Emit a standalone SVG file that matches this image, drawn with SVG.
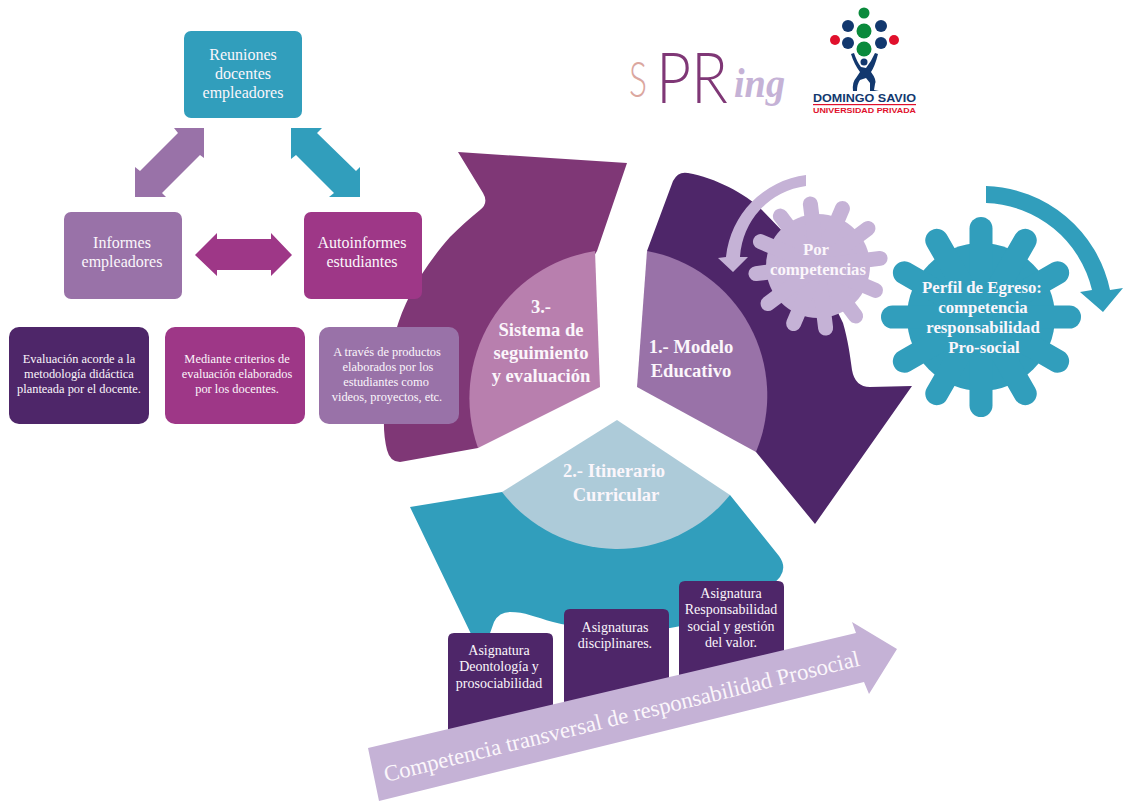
<svg xmlns="http://www.w3.org/2000/svg" width="1129" height="801" viewBox="0 0 1129 801">
<style>
text{font-family:"Liberation Serif","DejaVu Serif",serif;fill:#fbf6fb;text-anchor:middle}
.b{font-weight:bold}
.m{font-size:16px}
.s{font-size:12.4px}
.a{font-size:14px}
.l1{font-size:18.6px}
.l2{font-size:16.8px}
.tt{stroke:#319ebc;stroke-width:23;stroke-linecap:round}
.tp{stroke:#c5b2d6;stroke-width:15;stroke-linecap:round}
.logo{font-family:"Liberation Sans",Arial,sans-serif;font-weight:bold}
.sp{font-family:Lato,"Open Sans",sans-serif;font-weight:300;text-anchor:start}
</style>
<rect width="1129" height="801" fill="#fff"/>
<g id="sistema">
<path fill="#7f3776" d="M458 152 L627 163 L597 251 L478 448 L400 462 Q390 462 387 450 Q382 430 385 405 C388 350 395 300 450 237 C460 227 470 218 480 210 Q489 203 483 193 Z"/>
<path fill="#b87fae" d="M595 251 L600 387 L478 448 A149 149 0 0 1 595 251 Z"/>
<text class="b l1"><tspan x="541" y="313">3.-</tspan><tspan x="541" y="336">Sistema de</tspan><tspan x="541" y="359">seguimiento</tspan><tspan x="541" y="382">y evaluación</tspan></text>
</g>
<g id="modelo">
<path fill="#4e2669" d="M647 251 L673 181 Q678 171 688 173 C715 178 745 193 762 210 L815 265 L843 323 C848 340 850 355 852 370 Q855 387 870 387 L912 386 L815 524 L756 452 Z"/>
<path fill="#9972a8" d="M647 251 L637 387 L756 452 A147 147 0 0 0 647 251 Z"/>
<text class="b l1"><tspan x="691" y="353">1.- Modelo</tspan><tspan x="691" y="377">Educativo</tspan></text>
</g>
<g id="itinerario">
<path fill="#319ebc" d="M410 507 L502 492 L730 495 L779 556 Q787 567 780 577 C765 595 720 620 670 628 C630 633 585 630 553 622 C535 617 525 612 510 612 Q499 612 494 622 L489 636 L472 636 Z"/>
<path fill="#adcbd9" d="M617 420 L730 495 A145 145 0 0 1 502 492 Z"/>
<text class="b l1"><tspan x="614" y="477">2.- Itinerario</tspan><tspan x="616" y="501">Curricular</tspan></text>
</g>
<g id="asig1"><path fill="#4e2669" d="M448 735 V639 Q448 633 454 633 H547 Q553 633 553 639 V710 Z"/>
<text class="a"><tspan x="499" y="655">Asignatura</tspan><tspan x="499" y="671">Deontología y</tspan><tspan x="499" y="688">prosociabilidad</tspan></text></g>
<g id="asig2"><path fill="#4e2669" d="M564 708 V615 Q564 609 570 609 H663 Q669 609 669 615 V683 Z"/>
<text class="a"><tspan x="615" y="632">Asignaturas</tspan><tspan x="615" y="648">disciplinares.</tspan></text></g>
<g id="asig3"><path fill="#4e2669" d="M679 681 V587 Q679 581 685 581 H778 Q784 581 784 587 V656 Z"/>
<text class="a"><tspan x="731" y="598">Asignatura</tspan><tspan x="731" y="614">Responsabilidad</tspan><tspan x="731" y="631">social y gestión</tspan><tspan x="731" y="647">del valor.</tspan></text></g>
<g id="transversal">
<path fill="#c5b2d6" d="M368 748 L856 633 L852 622 L897 649 L869 694 L864 682 L379 801 Z"/>
<text font-size="22.700" transform="translate(386 782) rotate(-13.800)" style="text-anchor:start">Competencia transversal de responsabilidad Prosocial</text>
</g>
<g id="por">
<path fill="#c5b2d6" d="M806 175 A92 92 0 0 0 726 257 L718 258 L733 272 L748 257 L740 257 A76 76 0 0 1 806 186 Z"/>
<circle cx="818" cy="266" r="52" fill="#c5b2d6"/>
<g class="tp"><line x1="818" y1="266" x2="818" y2="203.500" transform="rotate(-7 818 266)"/><line x1="818" y1="266" x2="818" y2="203.500" transform="rotate(23 818 266)"/><line x1="818" y1="266" x2="818" y2="203.500" transform="rotate(53 818 266)"/><line x1="818" y1="266" x2="818" y2="203.500" transform="rotate(83 818 266)"/><line x1="818" y1="266" x2="818" y2="203.500" transform="rotate(113 818 266)"/><line x1="818" y1="266" x2="818" y2="203.500" transform="rotate(143 818 266)"/><line x1="818" y1="266" x2="818" y2="203.500" transform="rotate(173 818 266)"/><line x1="818" y1="266" x2="818" y2="203.500" transform="rotate(203 818 266)"/><line x1="818" y1="266" x2="818" y2="203.500" transform="rotate(233 818 266)"/><line x1="818" y1="266" x2="818" y2="203.500" transform="rotate(263 818 266)"/><line x1="818" y1="266" x2="818" y2="203.500" transform="rotate(293 818 266)"/><line x1="818" y1="266" x2="818" y2="203.500" transform="rotate(323 818 266)"/></g>
<text class="b l2"><tspan x="816" y="255">Por</tspan><tspan x="818" y="275">competencias</tspan></text>
</g>
<g id="perfil">
<path fill="#319ebc" d="M986 186 A131 131 0 0 1 1110 290 L1123 288 L1103 312 L1080 292 L1092 290 A113 113 0 0 0 986 203 Z"/>
<circle cx="981" cy="317" r="74" fill="#319ebc"/>
<g class="tt"><line x1="981" y1="317" x2="981" y2="228.500"/><line x1="981" y1="317" x2="981" y2="228.500" transform="rotate(30 981 317)"/><line x1="981" y1="317" x2="981" y2="228.500" transform="rotate(60 981 317)"/><line x1="981" y1="317" x2="981" y2="228.500" transform="rotate(90 981 317)"/><line x1="981" y1="317" x2="981" y2="228.500" transform="rotate(120 981 317)"/><line x1="981" y1="317" x2="981" y2="228.500" transform="rotate(150 981 317)"/><line x1="981" y1="317" x2="981" y2="228.500" transform="rotate(180 981 317)"/><line x1="981" y1="317" x2="981" y2="228.500" transform="rotate(210 981 317)"/><line x1="981" y1="317" x2="981" y2="228.500" transform="rotate(240 981 317)"/><line x1="981" y1="317" x2="981" y2="228.500" transform="rotate(270 981 317)"/><line x1="981" y1="317" x2="981" y2="228.500" transform="rotate(300 981 317)"/><line x1="981" y1="317" x2="981" y2="228.500" transform="rotate(330 981 317)"/></g>
<text class="b l2"><tspan x="982" y="293">Perfil de Egreso:</tspan><tspan x="983" y="313">competencia</tspan><tspan x="983" y="333">responsabilidad</tspan><tspan x="984" y="353">Pro-social</tspan></text>
</g>
<g id="connectors">
<polygon fill="#9972a8" points="174,128 204,128 204,158 200,155 162,193 166,197 135,197 135,167 140,171 178,133"/>
<polygon fill="#319ebc" points="291,128 322,128 317,133 356,171 360,167 360,197 329,197 334,193 296,155 291,159"/>
<polygon fill="#9e3787" points="195,255 217,233 217,239 271,239 271,233 292,255 271,276 271,270 217,270 217,276"/>
</g>
<g id="reuniones"><rect x="184" y="31" width="118" height="87" rx="7" fill="#319ebc"/>
<text class="m"><tspan x="243" y="60">Reuniones</tspan><tspan x="243" y="79">docentes</tspan><tspan x="243" y="98">empleadores</tspan></text></g>
<g id="informes"><rect x="64" y="212" width="118" height="87" rx="7" fill="#9972a8"/>
<text class="m"><tspan x="122" y="248">Informes</tspan><tspan x="122" y="267">empleadores</tspan></text></g>
<g id="autoinformes"><rect x="304" y="212" width="118" height="87" rx="7" fill="#9e3787"/>
<text class="m"><tspan x="362" y="248">Autoinformes</tspan><tspan x="362" y="267">estudiantes</tspan></text></g>
<g id="evaluacion"><rect x="9" y="327" width="140" height="97" rx="10" fill="#4e2669"/>
<text class="s"><tspan x="79" y="363">Evaluación acorde a la</tspan><tspan x="79" y="378">metodología didáctica</tspan><tspan x="79" y="393">planteada por el docente.</tspan></text></g>
<g id="criterios"><rect x="165" y="327" width="140" height="97" rx="10" fill="#9e3787"/>
<text class="s"><tspan x="237" y="363">Mediante criterios de</tspan><tspan x="237" y="378">evaluación elaborados</tspan><tspan x="237" y="393">por los docentes.</tspan></text></g>
<g id="productos"><rect x="319" y="327" width="140" height="97" rx="10" fill="#9972a8"/>
<text class="s"><tspan x="387" y="356">A través de productos</tspan><tspan x="388" y="371">elaborados por los</tspan><tspan x="386" y="386">estudiantes como</tspan><tspan x="387" y="401">videos, proyectos, etc.</tspan></text></g>
<g id="spring">
<text class="sp" x="629" y="97" font-size="50" textLength="18" lengthAdjust="spacingAndGlyphs" style="fill:#dba79f">S</text>
<text class="sp" x="656" y="103" font-size="70" textLength="72" lengthAdjust="spacingAndGlyphs" style="fill:#7f3776">PR</text>
<text x="734" y="97" font-size="42" font-style="italic" font-weight="bold" textLength="51" lengthAdjust="spacingAndGlyphs" style="text-anchor:start;fill:#c5b2d6">ing</text>
</g>
<g id="domingo-savio">
<circle cx="864" cy="13" r="5.500" fill="#0a8a3c"/><circle cx="864" cy="31" r="7.500" fill="#0a8a3c"/><circle cx="864" cy="49" r="7.500" fill="#0a8a3c"/>
<circle cx="848" cy="26" r="6" fill="#12386e"/><circle cx="881" cy="26" r="6" fill="#12386e"/><circle cx="848" cy="43" r="6" fill="#12386e"/><circle cx="881" cy="43" r="6" fill="#12386e"/>
<circle cx="835" cy="40" r="5" fill="#e0102c"/><circle cx="894" cy="40" r="5" fill="#e0102c"/>
<circle cx="864" cy="62" r="3.500" fill="#12386e"/>
<path fill="#12386e" d="M851 54 L854 53 Q857 62 861 67 L866 68 Q871 62 875 53 L878 54 Q875 66 871 72 Q877 80 875 84 L874 90 L879 91 L870 91 L870 83 L866 78 L860 80 Q857 84 857 91 L853 91 Q852 82 856 78 L860 72 Q854 64 851 54 Z"/>
<text class="logo" x="864.500" y="101.500" font-size="11" textLength="103" lengthAdjust="spacingAndGlyphs" style="fill:#12386e">DOMINGO SAVIO</text>
<rect x="813" y="104" width="103" height="1.200" fill="#e0102c"/>
<text class="logo" x="864.500" y="113" font-size="7.800" textLength="103" lengthAdjust="spacingAndGlyphs" style="fill:#e0102c">UNIVERSIDAD PRIVADA</text>
</g>
</svg>
